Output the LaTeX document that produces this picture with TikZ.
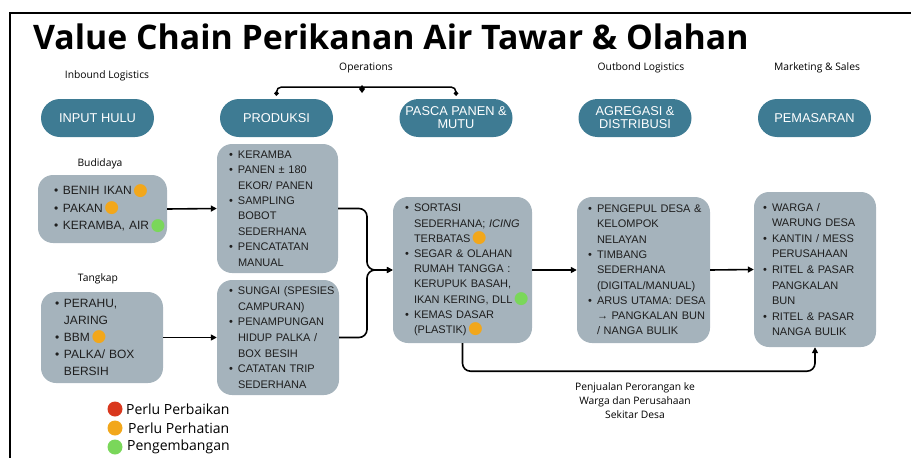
\documentclass[tikz,border=0pt]{standalone}
\usepackage{fontspec}
\usetikzlibrary{arrows.meta,calc}
\setmainfont{Open Sans}
\newfontfamily\boxfont{Liberation Sans}
\newfontfamily\symfont{DejaVu Sans}
\definecolor{pillc}{HTML}{3E7B93}
\definecolor{boxc}{HTML}{A5B3BC}
\definecolor{txtc}{HTML}{1E1E1E}
\definecolor{dred}{HTML}{D9381E}
\definecolor{dorange}{HTML}{F2A71B}
\definecolor{dgreen}{HTML}{7AD75A}
\newcommand{\itm}[1]{\mbox{\makebox[9pt][l]{\textbullet}#1}}
\newcommand{\cnt}[1]{\mbox{\hspace*{9pt}#1}}
\newcommand{\sdot}[1]{\hspace{1.5pt}\smash{\raisebox{-0.4pt}{\textcolor{#1}{\symfont\fontsize{17}{17}\selectfont ●}}}}
\tikzset{
  pill/.style={fill=pillc, rounded corners=19pt, minimum width=113pt, minimum height=38pt,
    text=white, align=center, inner sep=0pt, font=\boxfont\fontsize{12.8}{13}\selectfont},
  gbox/.style={fill=boxc, rounded corners=15pt, inner ysep=0pt, align=left, text=txtc,
    font=\boxfont\fontsize{11}{15.4}\selectfont},
  hdr/.style={font=\fontsize{10.3}{12}\selectfont, inner sep=0pt},
  conn/.style={line width=1.6pt, rounded corners=8pt},
  arr/.style={conn, -{Triangle[length=6pt,width=6pt]}},
  legdot/.style={circle, minimum size=15pt, inner sep=0pt},
  legtxt/.style={anchor=west, inner sep=0pt, font=\fontsize{14}{16}\selectfont}
}
\begin{document}
\begin{tikzpicture}[x=1pt,y=-1pt]
\useasboundingbox (0,0) rectangle (911,458);
\draw[line width=2pt] (10,458) -- (10,13) -- (911,13);

\node[anchor=base west, inner sep=0pt, font=\bfseries\fontsize{33.8}{36}\selectfont] (title) at (33,49)
  {Value Chain Perikanan Air Tawar \& Olahan};

% headers
\node[hdr] (h1) at (107,76) {Inbound Logistics};
\node[hdr] (h2) at (366,68) {Operations};
\node[hdr] (h3) at (641,68) {Outbond Logistics};
\node[hdr] (h4) at (817,68) {Marketing \& Sales};

% pills
\node[pill] (p1) at (97.5,118) {INPUT HULU};
\node[pill] (p2) at (276.5,118) {PRODUKSI};
\node[pill] (p3) at (456,118) {PASCA PANEN \&\\MUTU};
\node[pill] (p4) at (635,118) {AGREGASI \&\\DISTRIBUSI};
\node[pill] (p5) at (814.5,118) {PEMASARAN};

% operations bracket
\draw[line width=1.5pt, rounded corners=5pt, {Diamond[length=5pt,width=5pt]}-{Diamond[length=5pt,width=5pt]}]
  ($(p2.north)+(0,-3)$) |- (362,87) -| ($(p3.north)+(0,-3)$);
\fill (362,85) -- (365,89) -- (362,93) -- (359,89) -- cycle;

% sub labels
\node[hdr] (lb1) at (100,164) {Budidaya};
\node[hdr] (lb2) at (98,279) {Tangkap};

% boxes
\node[gbox, minimum width=129pt, minimum height=68pt, text width=97pt, inner xsep=16pt,
  font=\boxfont\fontsize{12}{17.5}\selectfont] (bud) at (102.5,209)
  {\itm{BENIH IKAN\sdot{dorange}}\\\itm{PAKAN\sdot{dorange}}\\\itm{KERAMBA, AIR\sdot{dgreen}}};

\node[gbox, minimum width=122pt, minimum height=91pt, text width=94pt, inner xsep=14pt,
  font=\boxfont\fontsize{12}{17}\selectfont] (tan) at (102,337.5)
  {\itm{PERAHU,}\\\cnt{JARING}\\\itm{BBM\sdot{dorange}}\\\itm{PALKA/ BOX}\\\cnt{BERSIH}};

\node[gbox, minimum width=121pt, minimum height=129pt, text width=97pt, inner xsep=12pt] (prod) at (277.5,208.5)
  {\itm{KERAMBA}\\\itm{PANEN ± 180}\\\cnt{EKOR/ PANEN}\\\itm{SAMPLING}\\\cnt{BOBOT}\\\cnt{SEDERHANA}\\\itm{PENCATATAN}\\\cnt{MANUAL}};

\node[gbox, minimum width=122pt, minimum height=115pt, text width=98pt, inner xsep=12pt,
  font=\boxfont\fontsize{11}{15.7}\selectfont] (sun) at (278,337.5)
  {\itm{SUNGAI (SPESIES}\\\cnt{CAMPURAN)}\\\itm{PENAMPUNGAN}\\\cnt{HIDUP PALKA /}\\\cnt{BOX BESIH}\\\itm{CATATAN TRIP}\\\cnt{SEDERHANA}};

\node[gbox, minimum width=139pt, minimum height=146pt, text width=115pt, inner xsep=12pt,
  font=\boxfont\fontsize{11}{15.2}\selectfont] (pas) at (462.5,270)
  {\itm{SORTASI}\\\cnt{SEDERHANA; \textit{ICING}}\\\cnt{TERBATAS\sdot{dorange}}\\\itm{SEGAR \& OLAHAN}\\\cnt{RUMAH TANGGA :}\\\cnt{KERUPUK BASAH,}\\\cnt{IKAN KERING, DLL\sdot{dgreen}}\\\itm{KEMAS DASAR}\\\cnt{(PLASTIK)\sdot{dorange}}};

\node[gbox, minimum width=133pt, minimum height=146pt, text width=111pt, inner xsep=11pt,
  font=\boxfont\fontsize{11}{15.3}\selectfont] (agr) at (643.5,270)
  {\itm{PENGEPUL DESA \&}\\\cnt{KELOMPOK}\\\cnt{NELAYAN}\\\itm{TIMBANG}\\\cnt{SEDERHANA}\\\cnt{(DIGITAL/MANUAL)}\\\itm{ARUS UTAMA: DESA}\\\cnt{→ PANGKALAN BUN}\\\cnt{/ NANGA BULIK}};

\node[gbox, minimum width=122pt, minimum height=155pt, text width=104pt, inner xsep=9pt,
  font=\boxfont\fontsize{11}{15.6}\selectfont] (pem) at (815,269.5)
  {\itm{WARGA /}\\\cnt{WARUNG DESA}\\\itm{KANTIN / MESS}\\\cnt{PERUSAHAAN}\\\itm{RITEL \& PASAR}\\\cnt{PANGKALAN}\\\cnt{BUN}\\\itm{RITEL \& PASAR}\\\cnt{NANGA BULIK}};

% connectors
\coordinate (m) at (367,270);
\draw[arr] (bud.east) -- (prod.west);
\draw[arr] (tan.east) -- (sun.west);
\draw[arr] (prod.east) -| (m) -- (pas.west);
\draw[arr] (sun.east) -| (m) -- (pas.west);
\draw[arr] (pas.east) -- (agr.west);
\draw[arr] (agr.east) -- (pem.west);
\draw[arr] (pas.south) -- ++(0,28) -| (pem.south);

\node[hdr, align=center, font=\fontsize{10.3}{14}\selectfont] (sell) at (635,401)
  {Penjualan Perorangan ke\\Warga dan Perusahaan\\Sekitar Desa};

% legend
\node[legdot, fill=dred] (l1) at (115,409) {};
\node[legdot, fill=dorange] (l2) at (115,428) {};
\node[legdot, fill=dgreen] (l3) at (115,447) {};
\node[legtxt] (t1) at (126,409) {Perlu Perbaikan};
\node[legtxt] (t2) at (128,428) {Perlu Perhatian};
\node[legtxt] (t3) at (127,447) {Pengembangan};
\end{tikzpicture}
\end{document}
